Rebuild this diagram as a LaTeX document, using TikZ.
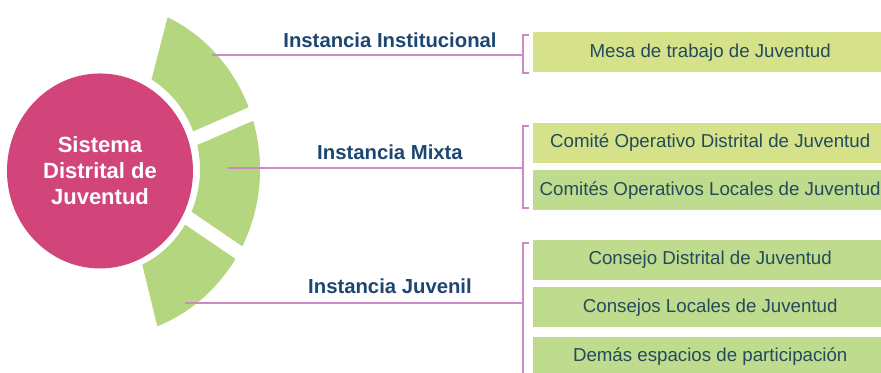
\documentclass[tikz,border=0pt]{standalone}
\usepackage{fontspec}
\setmainfont{Liberation Sans}
\usetikzlibrary{calc,positioning,shapes.geometric}

\definecolor{corepink}{HTML}{D1457A}
\definecolor{ringgreen}{HTML}{B4D67F}
\definecolor{boxlight}{HTML}{D5E28A}
\definecolor{boxgreen}{HTML}{BFDB8D}
\definecolor{linkpurple}{HTML}{CA8AC3}
\definecolor{labelblue}{HTML}{1D4670}
\definecolor{itemtext}{HTML}{244B5B}

\begin{document}
\begin{tikzpicture}[x=1pt, y=1.05pt,
            gap/.style={white, line width=14pt},
            link/.style={linkpurple, line width=1.9pt},
            instance/.style={text=labelblue, font=\bfseries\fontsize{20.3}{24}\selectfont},
            item/.style={anchor=west, minimum width=354pt, minimum height=40pt, inner sep=0pt,
                         text=itemtext, font=\fontsize{18.7}{22}\selectfont}]

        \clip (0,0) rectangle (881,354.29);

        % ring of the three instances
        \coordinate (hub) at (100,192.9);
        \fill[ringgreen] ($(hub)+(59:100)$) -- ($(hub)+(65:160)$) arc[start angle=65, end angle=-69, radius=160]
            -- ($(hub)+(-65:100)$) arc[start angle=-65, end angle=59, radius=100] -- cycle;
        \draw[gap] (150,204) -- (300,266);
        \draw[gap] (144,175.3) -- (285,83.8);

        \node[ellipse, fill=corepink, minimum width=186pt, minimum height=195pt, inner sep=0pt,
              text=white, align=center, font=\bfseries\fontsize{22}{26}\selectfont] (core) at ([yshift=-1.5pt]hub)
              {Sistema\\Distrital de\\Juventud};

        % boxes
        \node[item, fill=boxlight] (mesa) at (533,304.3) {Mesa de trabajo de Juventud};
        \node[item, fill=boxlight] (cod) at (533,218.1) {Comité Operativo Distrital de Juventud};
        \node[item, fill=boxgreen, below=7pt of cod.south west, anchor=north west] (col)
              {Comités Operativos Locales de Juventud};
        \node[item, fill=boxgreen] (cdj) at (533,106.7) {Consejo Distrital de Juventud};
        \node[item, fill=boxgreen, below=7pt of cdj.south west, anchor=north west] (clj)
              {Consejos Locales de Juventud};
        \node[item, fill=boxgreen, below=9pt of clj.south west, anchor=north west] (dep)
              {Demás espacios de participación};

        % labels
        \node[instance] (inst) at (390,316.2) {Instancia Institucional};
        \node[instance] (mixta) at (390,209.5) {Instancia Mixta};
        \node[instance] (juv) at (390,81.9) {Instancia Juvenil};

        % brackets
        \draw[link] ([xshift=-4pt,yshift=-3pt]mesa.north west) -| ([xshift=-10pt]mesa.west)
            |- ([xshift=-4pt]mesa.south west);
        \draw[link] ([xshift=-4pt,yshift=-3pt]cod.north west) -| ([xshift=-10pt]cod.south west)
            |- ([xshift=-4pt,yshift=3pt]col.south west);
        \draw[link] ([xshift=-4pt,yshift=-3pt]cdj.north west) -| ([xshift=-10pt]dep.south west);
        \coordinate (br1) at ([xshift=-10pt]mesa.west);
        \coordinate (br2) at ([xshift=-10pt]cod.west);
        \coordinate (br3) at ([xshift=-10pt]cdj.west);

        % connectors
        \coordinate (seg1) at (212,301.9);
        \coordinate (seg2) at (228,194.3);
        \coordinate (seg3) at (185,65.7);
        \draw[link] (seg1) -- (seg1 -| br1);
        \draw[link] (seg2) -- (seg2 -| br2);
        \draw[link] (seg3) -- (seg3 -| br3);
    \end{tikzpicture}
\end{document}
